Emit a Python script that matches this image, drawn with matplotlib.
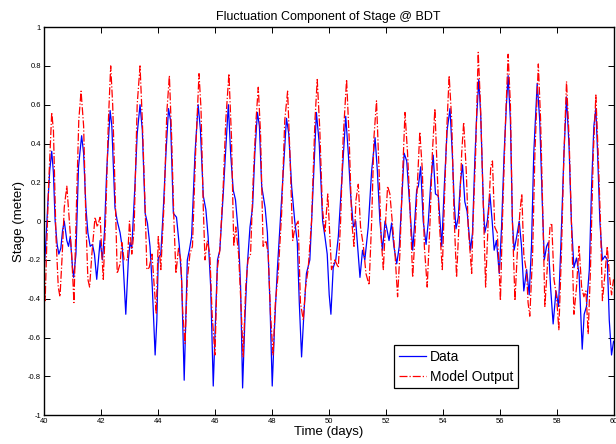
import matplotlib
matplotlib.use('Agg')
import matplotlib.pyplot as plt

# values (day, stage)
data_t = [40.00, 40.07, 40.14, 40.21, 40.28, 40.34, 40.40, 40.47, 40.53, 40.60, 40.66, 40.72, 40.81, 40.87, 40.93,
          41.01, 41.05, 41.13, 41.22, 41.33, 41.40, 41.48, 41.55, 41.63, 41.71, 41.78, 41.86, 41.92, 41.98,
          42.06, 42.13, 42.21, 42.33, 42.39, 42.50, 42.58, 42.68, 42.76, 42.88, 42.97,
          43.03, 43.09, 43.20, 43.28, 43.38, 43.46, 43.56, 43.64, 43.73, 43.81, 43.91, 43.97,
          44.02, 44.11, 44.20, 44.29, 44.38, 44.45, 44.55, 44.66, 44.76, 44.84, 44.93,
          45.04, 45.11, 45.19, 45.31, 45.42, 45.50, 45.60, 45.69, 45.77, 45.86, 45.95,
          46.03, 46.10, 46.18, 46.30, 46.38, 46.48, 46.56, 46.65, 46.73, 46.83, 46.91, 46.98,
          47.06, 47.14, 47.24, 47.33, 47.41, 47.50, 47.57, 47.65, 47.77, 47.85, 47.94,
          48.02, 48.11, 48.20, 48.29, 48.41, 48.52, 48.60, 48.70, 48.81, 48.90, 48.97,
          49.05, 49.13, 49.22, 49.34, 49.43, 49.57, 49.67, 49.79, 49.87, 49.95,
          50.02, 50.08, 50.16, 50.25, 50.34, 50.46, 50.60, 50.69, 50.77, 50.87, 50.95,
          51.04, 51.10, 51.19, 51.27, 51.39, 51.51, 51.63, 51.71, 51.80, 51.89, 51.98,
          52.03, 52.12, 52.21, 52.29, 52.39, 52.48, 52.56, 52.65, 52.74, 52.83, 52.95,
          53.01, 53.09, 53.15, 53.23, 53.32, 53.42, 53.50, 53.59, 53.67, 53.75, 53.85, 53.97,
          54.06, 54.16, 54.26, 54.34, 54.41, 54.47, 54.55, 54.63, 54.70, 54.78, 54.86, 54.98,
          55.05, 55.13, 55.19, 55.27, 55.34, 55.43, 55.48, 55.57, 55.66, 55.74, 55.81, 55.89, 55.99,
          56.07, 56.16, 56.24, 56.30, 56.38, 56.45, 56.51, 56.60, 56.69, 56.77, 56.85, 56.95,
          57.04, 57.12, 57.20, 57.32, 57.41, 57.50, 57.57, 57.65, 57.71, 57.79, 57.88, 57.98,
          58.07, 58.15, 58.26, 58.35, 58.44, 58.52, 58.61, 58.70, 58.79, 58.90, 58.97,
          59.05, 59.15, 59.23, 59.31, 59.38, 59.44, 59.52, 59.61, 59.70, 59.78, 59.85, 59.93, 60.00]
data_v = [-0.29, -0.12, 0.08, 0.26, 0.36, 0.25, 0.00, -0.12, -0.17, -0.14, -0.05, 0.00, -0.10, -0.13, -0.08,
          -0.24, -0.29, -0.17, 0.28, 0.44, 0.35, 0.07, -0.06, -0.13, -0.12, -0.17, -0.30, -0.20, -0.10,
          -0.20, -0.06, 0.26, 0.57, 0.49, 0.07, 0.00, -0.06, -0.14, -0.48, -0.20,
          -0.11, -0.14, 0.18, 0.45, 0.60, 0.47, 0.04, -0.01, -0.13, -0.34, -0.69, -0.51,
          -0.19, -0.17, 0.07, 0.35, 0.58, 0.52, 0.04, 0.02, -0.13, -0.30, -0.82,
          -0.20, -0.15, -0.08, 0.35, 0.60, 0.47, 0.13, 0.06, -0.08, -0.34, -0.85,
          -0.51, -0.20, -0.15, 0.14, 0.35, 0.60, 0.35, 0.16, 0.11, -0.06, -0.34, -0.86,
          -0.51, -0.24, -0.03, 0.07, 0.35, 0.56, 0.49, 0.18, 0.07, -0.06, -0.42,
          -0.85, -0.51, -0.25, -0.03, 0.26, 0.53, 0.45, 0.18, 0.00, -0.11, -0.42,
          -0.70, -0.48, -0.27, -0.20, 0.09, 0.56, 0.40, 0.00, -0.08, -0.17,
          -0.38, -0.48, -0.24, -0.20, -0.08, 0.21, 0.54, 0.35, 0.14, -0.03, 0.00,
          -0.17, -0.29, -0.15, -0.20, -0.03, 0.26, 0.43, 0.26, 0.00, -0.15, 0.00,
          -0.03, -0.10, -0.01, -0.13, -0.22, -0.13, 0.09, 0.35, 0.31, 0.11, -0.15,
          -0.03, 0.16, 0.18, 0.28, 0.00, -0.12, 0.00, 0.21, 0.34, 0.14, 0.13, -0.13,
          0.18, 0.47, 0.58, 0.35, 0.09, -0.04, 0.02, 0.21, 0.29, 0.10, 0.05, -0.15,
          -0.06, 0.31, 0.52, 0.73, 0.54, 0.09, -0.06, 0.00, 0.14, 0.00, -0.15, -0.10, -0.27,
          -0.03, 0.35, 0.60, 0.75, 0.52, 0.00, -0.15, -0.08, 0.00, -0.13, -0.36, -0.25,
          -0.38, -0.13, 0.35, 0.71, 0.52, 0.09, -0.20, -0.13, -0.11, -0.34, -0.53, -0.36,
          -0.44, -0.13, 0.35, 0.64, 0.38, 0.00, -0.24, -0.19, -0.27, -0.66, -0.48,
          -0.44, -0.25, 0.18, 0.49, 0.58, 0.35, 0.00, -0.20, -0.18, -0.20, -0.51, -0.69, -0.62]

model_t = [40.00, 40.05, 40.11, 40.17, 40.28, 40.34, 40.43, 40.51, 40.57, 40.65, 40.72, 40.81, 40.90, 40.98,
           41.06, 41.15, 41.23, 41.31, 41.40, 41.48, 41.55, 41.61, 41.69, 41.80, 41.88, 41.98,
           42.04, 42.09, 42.18, 42.27, 42.35, 42.42, 42.50, 42.58, 42.68, 42.74, 42.82, 42.94,
           43.01, 43.09, 43.17, 43.28, 43.38, 43.46, 43.56, 43.62, 43.70, 43.80, 43.88, 43.95,
           44.02, 44.11, 44.23, 44.32, 44.41, 44.49, 44.57, 44.64, 44.73, 44.81, 44.88, 44.96,
           45.04, 45.13, 45.22, 45.33, 45.45, 45.52, 45.60, 45.66, 45.74, 45.83, 45.91,
           46.01, 46.09, 46.18, 46.30, 46.39, 46.50, 46.59, 46.67, 46.74, 46.84, 46.92,
           47.00, 47.09, 47.17, 47.26, 47.35, 47.45, 47.53, 47.61, 47.70, 47.80, 47.88, 47.96,
           48.05, 48.13, 48.23, 48.35, 48.46, 48.56, 48.64, 48.74, 48.82, 48.93,
           49.01, 49.11, 49.19, 49.28, 49.40, 49.52, 49.60, 49.69, 49.78, 49.87, 49.97,
           50.10, 50.22, 50.34, 50.42, 50.51, 50.63, 50.72, 50.81, 50.89, 50.96,
           51.04, 51.12, 51.22, 51.31, 51.42, 51.51, 51.59, 51.68, 51.77, 51.84, 51.92,
           52.00, 52.07, 52.15, 52.23, 52.33, 52.42, 52.50, 52.58, 52.68, 52.77, 52.85, 52.95,
           53.03, 53.11, 53.20, 53.29, 53.36, 53.46, 53.56, 53.64, 53.73, 53.81, 53.88, 53.99,
           54.08, 54.16, 54.23, 54.32, 54.40, 54.49, 54.58, 54.67, 54.74, 54.83, 54.90,
           55.02, 55.07, 55.16, 55.25, 55.33, 55.43, 55.51, 55.60, 55.69, 55.75, 55.83, 55.92, 55.99,
           56.03, 56.10, 56.21, 56.30, 56.38, 56.45, 56.54, 56.62, 56.71, 56.78, 56.85, 56.95,
           57.00, 57.06, 57.16, 57.24, 57.36, 57.44, 57.51, 57.59, 57.67, 57.77, 57.83, 57.91,
           58.00, 58.08, 58.17, 58.26, 58.35, 58.44, 58.52, 58.61, 58.70, 58.79, 58.88, 58.96,
           59.03, 59.11, 59.19, 59.29, 59.38, 59.46, 59.54, 59.61, 59.70, 59.78, 59.85, 59.93, 60.00]
model_v = [-0.24, -0.41, -0.10, 0.18, 0.56, 0.47, -0.08, -0.34, -0.39, -0.17, 0.07, 0.18, 0.00, -0.17,
           -0.42, 0.09, 0.52, 0.67, 0.49, 0.00, -0.30, -0.34, -0.17, 0.02, -0.03, 0.02,
           -0.17, -0.30, 0.04, 0.52, 0.80, 0.60, 0.18, -0.27, -0.22, -0.11, -0.20, -0.20,
           0.00, -0.17, -0.05, 0.60, 0.80, 0.52, 0.07, -0.25, -0.24, -0.17, -0.34, -0.48,
           -0.08, -0.25, 0.11, 0.56, 0.75, 0.43, 0.00, -0.27, -0.14, -0.20, -0.47, -0.63,
           -0.30, -0.17, -0.13, 0.35, 0.76, 0.58, 0.07, -0.20, -0.10, -0.17, -0.48,
           -0.69, -0.25, -0.15, 0.18, 0.52, 0.76, 0.43, -0.13, -0.03, -0.17, -0.42,
           -0.70, -0.34, -0.20, -0.17, 0.21, 0.52, 0.69, 0.45, -0.13, -0.10, -0.17, -0.48,
           -0.69, -0.42, -0.27, 0.04, 0.52, 0.67, 0.35, -0.10, -0.03, 0.00,
           -0.42, -0.51, -0.34, -0.25, 0.00, 0.52, 0.73, 0.47, 0.07, -0.06, 0.14,
           -0.25, -0.20, -0.24, 0.00, 0.43, 0.73, 0.43, 0.00, -0.13, 0.11,
           0.19, -0.03, -0.13, -0.27, -0.33, 0.00, 0.43, 0.62, 0.26, -0.08, -0.25,
           0.00, 0.18, 0.14, 0.00, -0.17, -0.39, -0.17, 0.18, 0.56, 0.35, 0.09, -0.29,
           -0.08, 0.18, 0.46, 0.26, -0.13, -0.34, 0.00, 0.35, 0.58, 0.26, 0.00, -0.25,
           0.18, 0.52, 0.75, 0.52, 0.04, -0.29, 0.00, 0.35, 0.51, 0.26, -0.03,
           -0.27, 0.00, 0.35, 0.87, 0.60, 0.07, -0.34, 0.00, 0.28, 0.31, -0.03, -0.06, -0.27,
           -0.41, 0.00, 0.52, 0.86, 0.60, 0.00, -0.41, -0.17, 0.04, 0.14, -0.17, -0.27,
           -0.42, -0.49, -0.17, 0.35, 0.81, 0.52, 0.09, -0.44, -0.25, -0.03, -0.01, -0.30,
           -0.39, -0.56, -0.17, 0.35, 0.72, 0.43, 0.00, -0.48, -0.34, -0.13, -0.34, -0.39,
           -0.36, -0.58, -0.25, 0.35, 0.65, 0.35, 0.00, -0.41, -0.27, -0.13, -0.27, -0.38, -0.30]

xticks = [40, 42, 44, 46, 48, 50, 52, 54, 56, 58, 60]
yticks = [-1, -0.8, -0.6, -0.4, -0.2, 0, 0.2, 0.4, 0.6, 0.8, 1]
ylabels = ['-1', '-0.8', '-0.6', '-0.4', '-0.2', '0', '0.2', '0.4', '0.6', '0.8', '1']

plt.rcParams['font.family'] = ['Liberation Sans', 'DejaVu Sans']

fig = plt.figure(figsize=(6.16, 4.44), dpi=100)
ax = fig.add_axes([0.071, 0.065, 0.925, 0.874])

ax.plot(data_t, data_v, color='blue', lw=0.9, label='Data')
ax.plot(model_t, model_v, color='red', lw=0.9, ls='-.', label='Model Output')

ax.set_xlim(40, 60)
ax.set_ylim(-1, 1)
ax.set_xticks(xticks)
ax.set_xticklabels([str(t) for t in xticks])
ax.set_yticks(yticks)
ax.set_yticklabels(ylabels)
ax.tick_params(direction='in', top=True, right=True, labelsize=5.5, length=4, width=0.7, pad=2)
for s in ax.spines.values():
    s.set_linewidth(1.0)

ax.set_title('Fluctuation Component of Stage @ BDT', fontsize=9, pad=5)
ax.set_xlabel('Time (days)', fontsize=9.5, labelpad=1)
ax.set_ylabel('Stage (meter)', fontsize=9.5, labelpad=2)

# legend box spans about x 393-518, y 344-388 px in the reference
leg = ax.legend(loc='lower right', bbox_to_anchor=(0.832, 0.069), borderaxespad=0,
                fancybox=False, framealpha=1, edgecolor='black', fontsize=10,
                handlelength=1.95, borderpad=0.35, labelspacing=0.42, handletextpad=0.25)
leg.get_frame().set_linewidth(0.9)

fig.savefig('out.png', dpi=100)
